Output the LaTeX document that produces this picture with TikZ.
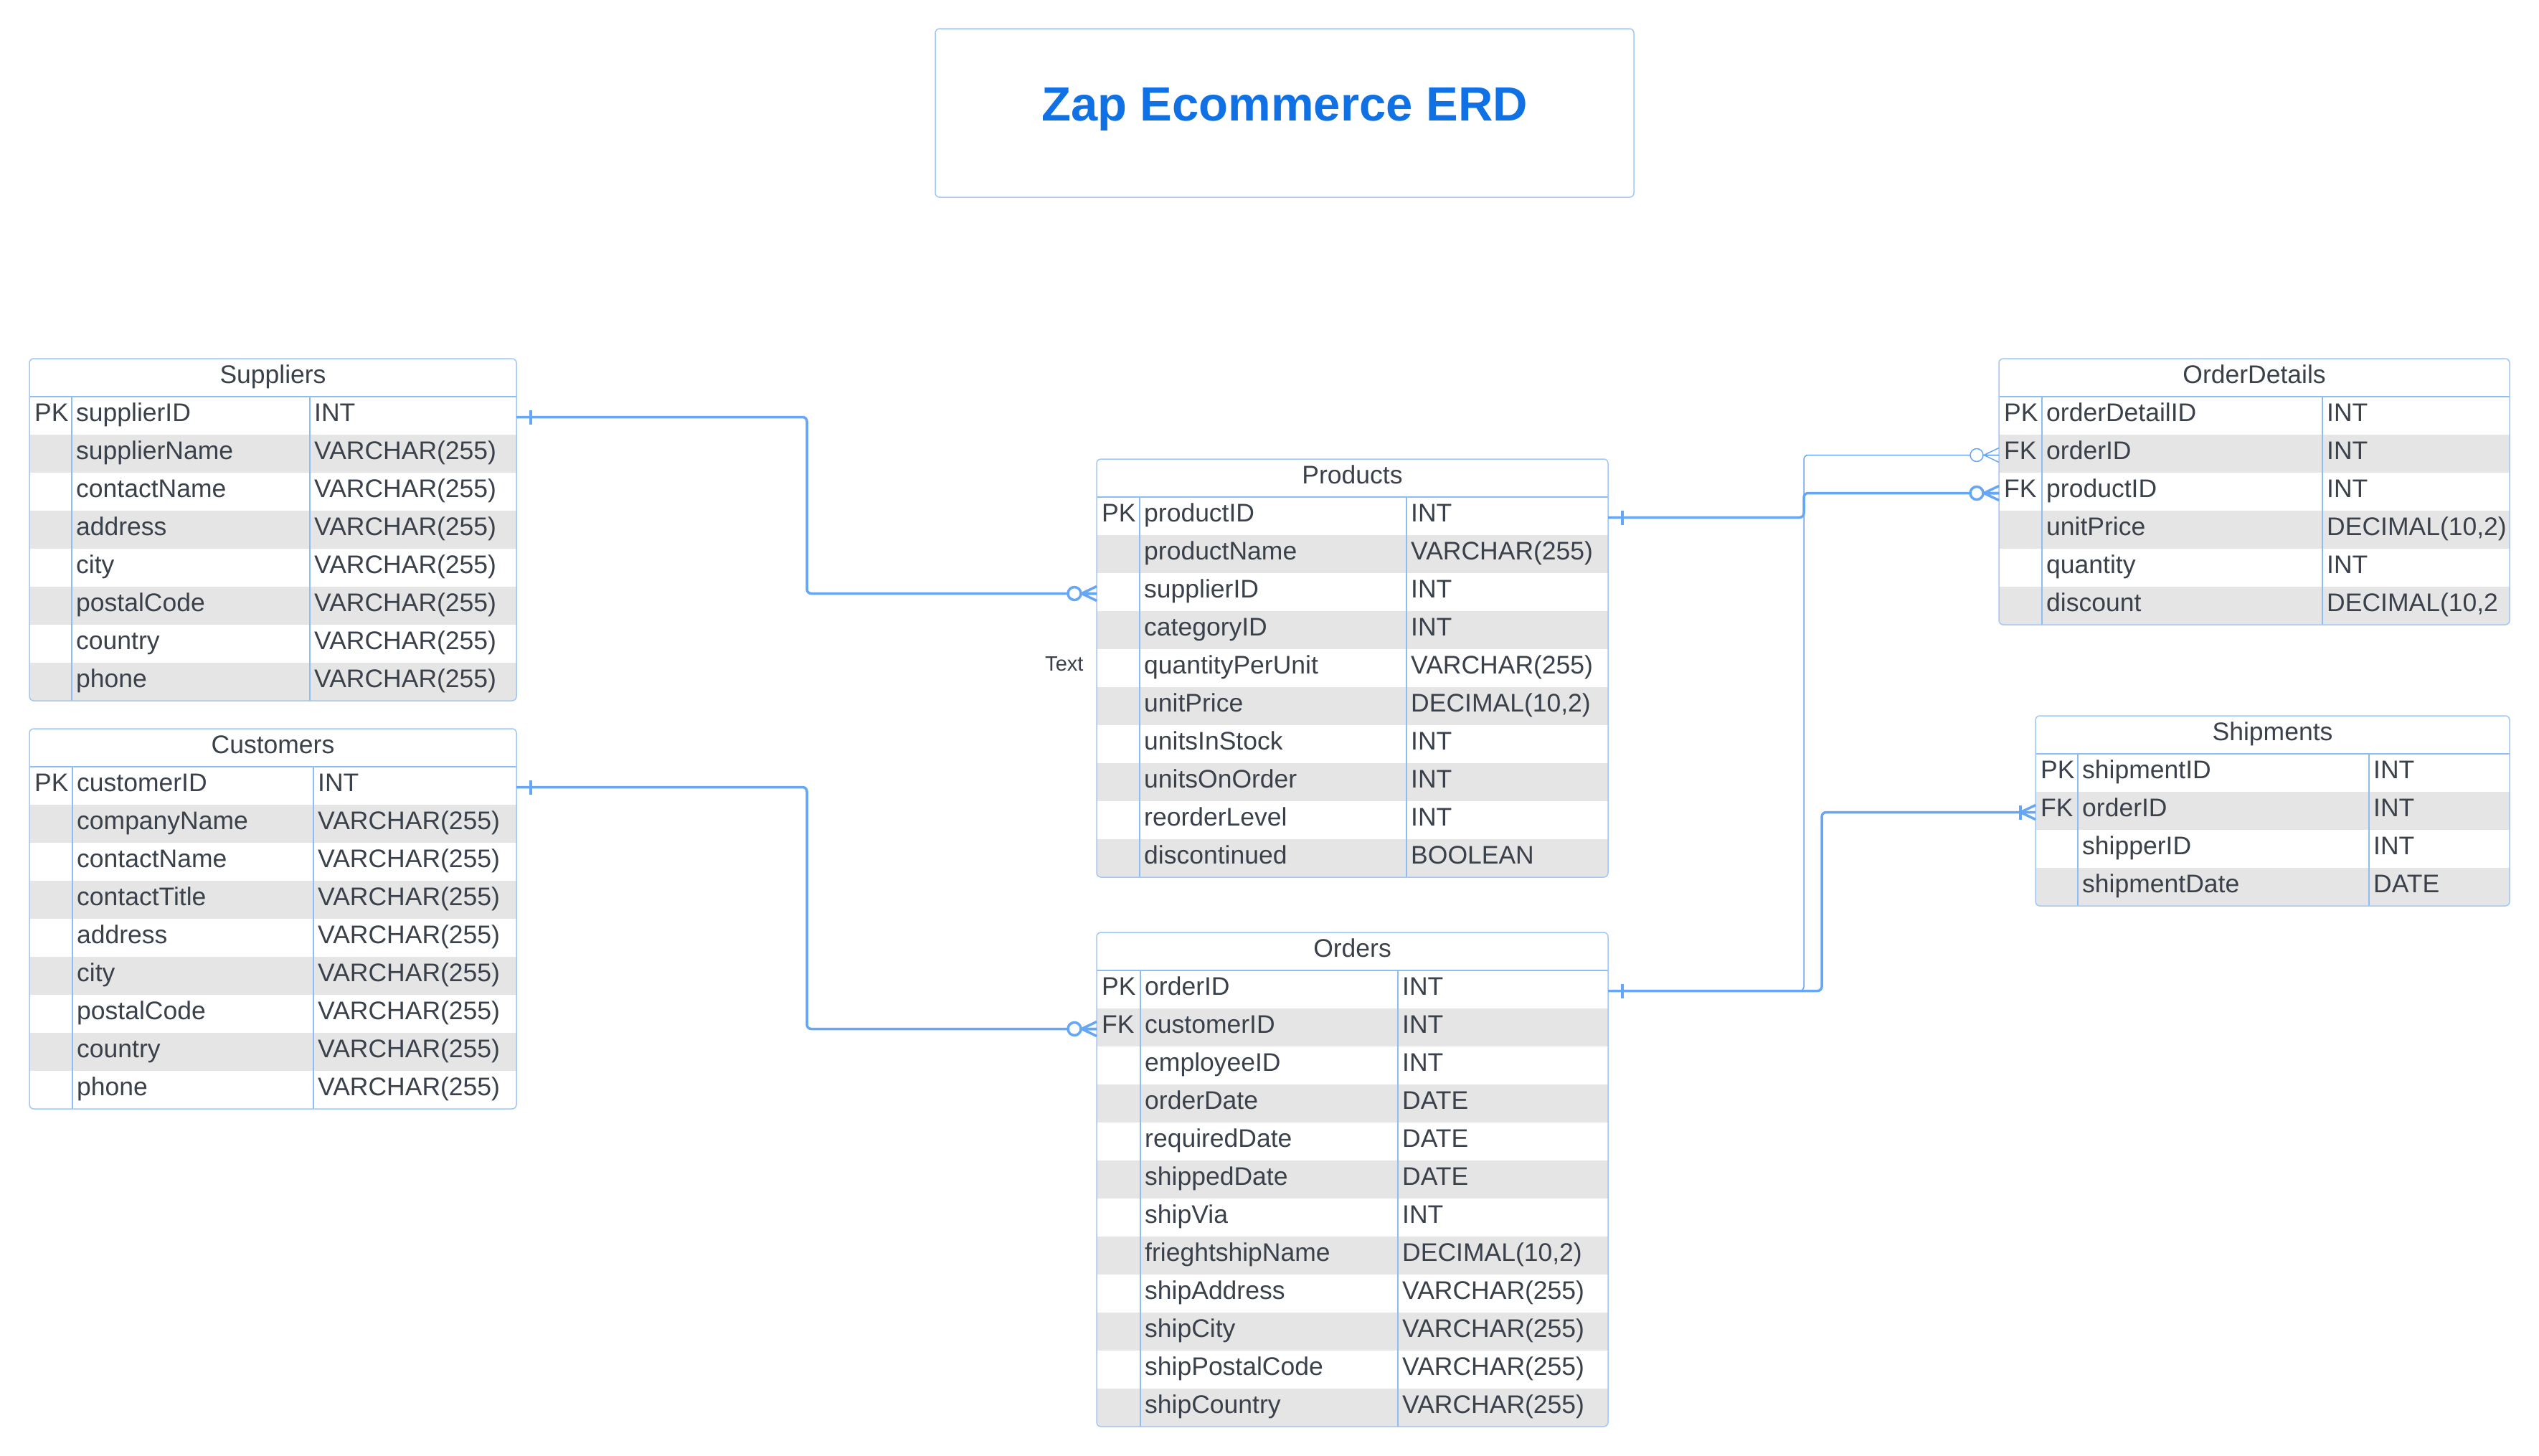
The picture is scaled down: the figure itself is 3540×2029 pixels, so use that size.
\documentclass[tikz,border=0pt]{standalone}
\usepackage{fontspec}
\setmainfont{Liberation Sans}
\usetikzlibrary{calc}
\definecolor{tborder}{HTML}{A3C8F7}
\definecolor{tdiv}{HTML}{8DBDF7}
\definecolor{conn}{HTML}{66A6F7}
\definecolor{rowgray}{HTML}{E5E5E5}
\definecolor{txt}{HTML}{3A414A}
\definecolor{ttl}{HTML}{1071E5}

\tikzset{
  cell/.style={anchor=base west, inner sep=0pt, text=txt, font=\fontsize{35.5}{42}\selectfont},
  hdr/.style={anchor=base, inner sep=0pt, text=txt, font=\fontsize{35.5}{42}\selectfont},
  rel/.style={draw=conn, line width=3.5pt, rounded corners=6pt},
  relthin/.style={draw=conn, line width=1.5pt, rounded corners=6pt},
  mark/.style={draw=conn, line width=#1},
}

% #1 id, #2 title, #3 xl, #4 xr, #5 ytop, #6 key divider, #7 type divider, #8 rows, #9 list
\newcommand{\erdtable}[9]{%
  \pgfmathsetmacro{\erdbot}{#5+53*(#8+1)}
  \begin{scope}
    \clip[rounded corners=6pt] (#3,#5) rectangle (#4,\erdbot);
    \fill[white] (#3,#5) rectangle (#4,\erdbot);
    \foreach \ekey/\ename/\etype [count=\i] in {#9} {
      \pgfmathsetmacro{\ya}{#5+53*\i}
      \ifodd\i\else \fill[rowgray] (#3,\ya) rectangle (#4,\ya+53);\fi
    }
  \end{scope}
  \draw[tdiv, line width=1.5pt] (#3,#5+53) -- (#4,#5+53);
  \draw[tdiv, line width=1.5pt] (#6,#5+53) -- (#6,\erdbot);
  \draw[tdiv, line width=1.5pt] (#7,#5+53) -- (#7,\erdbot);
  \draw[tborder, line width=1.5pt, rounded corners=6pt] (#3,#5) rectangle (#4,\erdbot);
  \node[hdr] (#1-title) at ({(#3+#4)/2},#5+34) {#2};
  \foreach \ekey/\ename/\etype [count=\i] in {#9} {
    \pgfmathsetmacro{\ya}{#5+53*\i}
    \node[cell] (#1-\i-key) at (#3+7,\ya+34.5) {\ekey};
    \node[cell] (#1-\i-name) at (#6+6,\ya+34.5) {\ename};
    \node[cell] (#1-\i-type) at (#7+6,\ya+34.5) {\etype};
    \coordinate (#1-\i-L) at (#3,\ya+28.5);
    \coordinate (#1-\i-R) at (#4,\ya+28.5);
  }
}

% one mark at a source end (right side)
\newcommand{\onemark}[2]{%
  \draw[mark=#2] ([xshift=20pt]#1) ++(0,-10) -- ++(0,20);
}
% zero or many at a target end (left side)
\newcommand{\zeromany}[2]{%
  \draw[mark=#2] ([xshift=-21pt]#1) -- ([yshift=10pt]#1)
                 ([xshift=-21pt]#1) -- ([yshift=-10pt]#1)
                 ([xshift=-21pt]#1) -- (#1);
  \draw[mark=#2, fill=white] ([xshift=-31pt]#1) circle (9pt);
}
% one or many at a target end (left side)
\newcommand{\onemany}[2]{%
  \draw[mark=#2] ([xshift=-21pt]#1) -- ([yshift=10pt]#1)
                 ([xshift=-21pt]#1) -- ([yshift=-10pt]#1);
  \draw[mark=#2] ([xshift=-21pt]#1) ++(0,-10) -- ++(0,20);
}

\begin{document}
\begin{tikzpicture}[x=1pt,y=-1pt]
\useasboundingbox (0,0) rectangle (3540,2029);
\fill[white] (0,0) rectangle (3540,2029);

% title
\node[draw=tborder, line width=1.5pt, rounded corners=6pt, minimum width=974pt, minimum height=235pt, inner sep=0pt] (titlebox) at (1791,157.5) {};
\node[anchor=base, inner sep=0pt, text=ttl, font=\fontsize{67}{80}\selectfont\bfseries] (title) at (1791,168) {Zap Ecommerce ERD};

% bend coordinates
\coordinate (bendL) at (1125,0);
\coordinate (bendR1) at (2515,0);
\coordinate (bendR2) at (2540,0);

% tables
\erdtable{sup}{Suppliers}{41}{720}{500}{100}{432}{8}{PK/supplierID/INT, {}/supplierName/VARCHAR(255), {}/contactName/VARCHAR(255), {}/address/VARCHAR(255), {}/city/VARCHAR(255), {}/postalCode/VARCHAR(255), {}/country/VARCHAR(255), {}/phone/VARCHAR(255)}

\erdtable{cus}{Customers}{41}{720}{1016}{101}{437}{9}{PK/customerID/INT, {}/companyName/VARCHAR(255), {}/contactName/VARCHAR(255), {}/contactTitle/VARCHAR(255), {}/address/VARCHAR(255), {}/city/VARCHAR(255), {}/postalCode/VARCHAR(255), {}/country/VARCHAR(255), {}/phone/VARCHAR(255)}

\erdtable{prod}{Products}{1529}{2242}{640}{1589}{1961}{10}{PK/productID/INT, {}/productName/VARCHAR(255), {}/supplierID/INT, {}/categoryID/INT, {}/quantityPerUnit/VARCHAR(255), {}/unitPrice/{DECIMAL(10,2)}, {}/unitsInStock/INT, {}/unitsOnOrder/INT, {}/reorderLevel/INT, {}/discontinued/BOOLEAN}

\erdtable{ord}{Orders}{1529}{2242}{1300}{1590}{1949}{12}{PK/orderID/INT, FK/customerID/INT, {}/employeeID/INT, {}/orderDate/DATE, {}/requiredDate/DATE, {}/shippedDate/DATE, {}/shipVia/INT, {}/frieghtshipName/{DECIMAL(10,2)}, {}/shipAddress/VARCHAR(255), {}/shipCity/VARCHAR(255), {}/shipPostalCode/VARCHAR(255), {}/shipCountry/VARCHAR(255)}

\erdtable{od}{OrderDetails}{2787}{3499}{500}{2847}{3238}{6}{PK/orderDetailID/INT, FK/orderID/INT, FK/productID/INT, {}/unitPrice/{DECIMAL(10,2)}, {}/quantity/INT, {}/discount/{DECIMAL(10,2}}

\erdtable{shp}{Shipments}{2838}{3499}{998}{2897}{3303}{4}{PK/shipmentID/INT, FK/orderID/INT, {}/shipperID/INT, {}/shipmentDate/DATE}

% free label
\node[anchor=base west, inner sep=0pt, text=txt, font=\fontsize{29}{34}\selectfont] (textlbl) at (1457,935) {Text};

% connectors
\draw[relthin] (ord-1-R) -| (bendR1 |- od-2-L) -- (od-2-L);
\draw[rel] (sup-1-R) -| (bendL |- prod-3-L) -- (prod-3-L);
\draw[rel] (cus-1-R) -| (bendL |- ord-2-L) -- (ord-2-L);
\draw[rel] (prod-1-R) -| (bendR1 |- od-3-L) -- (od-3-L);
\draw[rel] (ord-1-R) -| (bendR2 |- shp-2-L) -- (shp-2-L);

% end marks
\onemark{sup-1-R}{3.5pt}
\onemark{cus-1-R}{3.5pt}
\onemark{prod-1-R}{3.5pt}
\onemark{ord-1-R}{3.5pt}
\zeromany{prod-3-L}{3.5pt}
\zeromany{ord-2-L}{3.5pt}
\zeromany{od-3-L}{3.5pt}
\zeromany{od-2-L}{1.5pt}
\onemany{shp-2-L}{3.5pt}
\end{tikzpicture}
\end{document}
